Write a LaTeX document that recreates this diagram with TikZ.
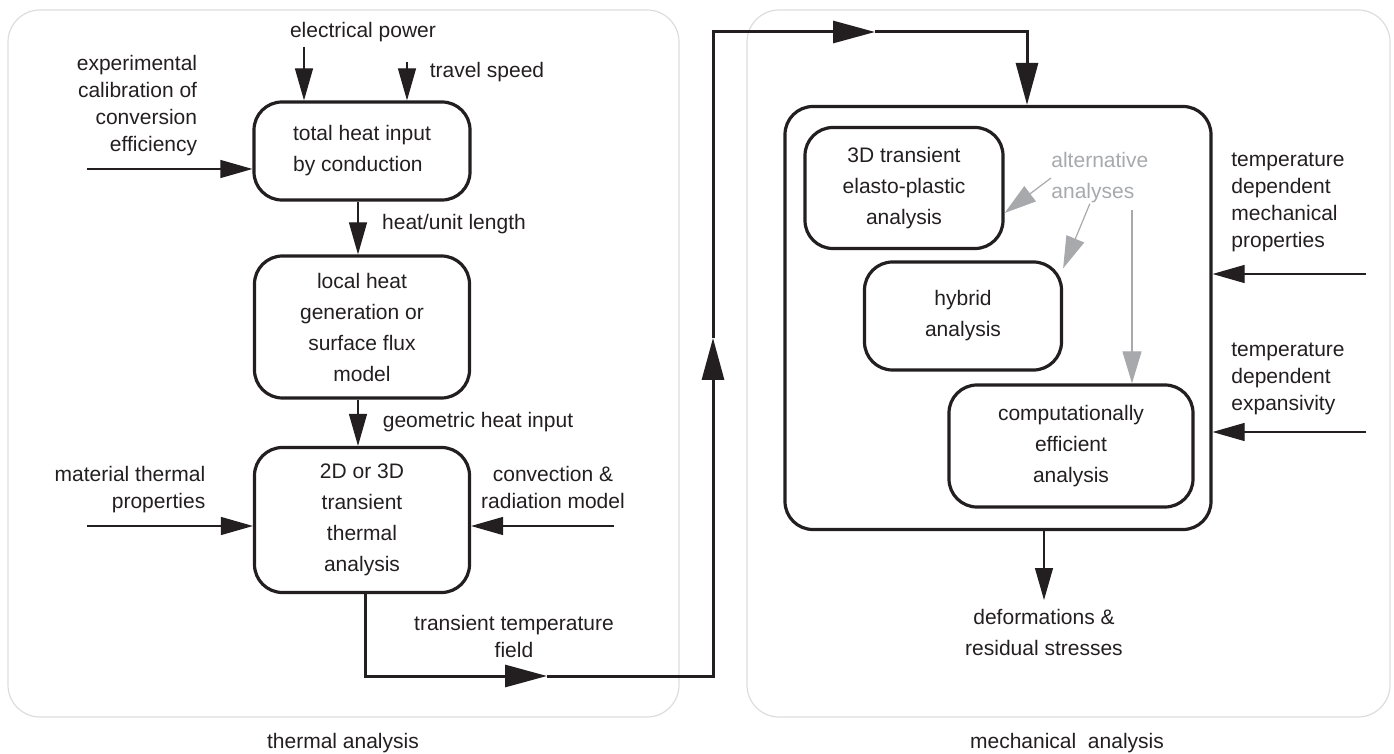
\documentclass[tikz,border=0pt]{standalone}
\usepackage{fontspec}
\setmainfont{Liberation Sans}
\usetikzlibrary{arrows.meta,calc}
\definecolor{ink}{HTML}{231F20}
\definecolor{altgray}{HTML}{A7A9AC}
\definecolor{framegray}{HTML}{DCDDDE}
\tikzset{
  procbox/.style={draw=ink,rounded corners=14pt,line width=1.6pt,align=center,inner sep=0pt,text=ink,font=\fontsize{10.5}{15.5}\selectfont},
  lbl/.style={align=center,inner sep=0pt,text=ink,font=\fontsize{10.5}{13.5}\selectfont},
  lblwide/.style={lbl,font=\fontsize{10.5}{15.5}\selectfont},
  panel/.style={draw=framegray,line width=0.6pt,rounded corners=16pt},
  inarrow/.style={draw=ink,line width=0.6pt,-{Triangle[length=16pt,width=9pt]}},
  flow/.style={draw=ink,line width=1.5pt,-{Triangle[length=21pt,width=11pt]}},
  altarrow/.style={draw=altgray,line width=0.6pt,-{Triangle[length=16pt,width=9.5pt]}}
}
\begin{document}
\begin{tikzpicture}[x=0.5pt,y=-0.5pt]
\useasboundingbox (0,0) rectangle (1394,754);
\draw[panel] (8,10) rectangle (679,717);
\draw[panel] (747,10) rectangle (1390,717);
\node[lbl] (thlabel) at (343,743) {thermal analysis};
\node[lbl] (mchlabel) at (1067,743) {mechanical\ \ analysis};

\node[procbox,align=left,minimum width=108pt,minimum height=49pt] (heat) at (362,151) {total heat input\\by conduction};
\node[procbox,minimum width=107.5pt,minimum height=71pt] (flux) at (362,327) {local heat\\generation or\\surface flux\\model};
\node[procbox,minimum width=107.5pt,minimum height=72.5pt] (therm) at (362,520) {2D or 3D\\transient\\thermal\\analysis};

\node[procbox,minimum width=213pt,minimum height=211.5pt] (mech) at (998,318) {};
\node[procbox,minimum width=99pt,minimum height=60.5pt] (full3d) at (904,188) {3D transient\\elasto-plastic\\analysis};
\node[procbox,minimum width=98.5pt,minimum height=54pt] (hybrid) at (963,316) {hybrid\\analysis};
\node[procbox,minimum width=122pt,minimum height=61pt] (effic) at (1071,446) {computationally\\efficient\\analysis};

\node[lbl] (elecp) at (363,32) {electrical power};
\node[lbl] (speed) at (487,72) {travel speed};
\node[lbl,align=right] (expcal) at (137,106) {experimental\\calibration of\\conversion\\efficiency};
\node[lbl] (unitlen) at (454,224) {heat/unit length};
\node[lbl] (geomin) at (478,422) {geometric heat input};
\node[lbl,align=right] (matprop) at (130,490) {material thermal\\properties};
\node[lbl] (convrad) at (553,487) {convection \&\\radiation model};
\node[lbl] (tempfield) at (514,636) {transient temperature\\field};
\node[lblwide,align=left,anchor=west,text=altgray] (alt) at (1051,178) {alternative\\analyses};
\node[lbl,align=left,anchor=west] (mechprop) at (1231,202) {temperature\\dependent\\mechanical\\properties};
\node[lbl,align=left,anchor=west] (expans) at (1231,379) {temperature\\dependent\\expansivity};
\node[lblwide] (deform) at (1044,632) {deformations \&\\residual stresses};

\coordinate (elecin) at (304,47);
\coordinate (speedin) at (407,62);
\coordinate (expin) at (87,169);
\coordinate (matin) at (87,526);
\coordinate (convin) at (614,526);
\coordinate (mpin) at (1366,274);
\coordinate (exin) at (1366,432);
\coordinate (outtip) at (1044,600);
\coordinate (altC) at (1132,210);

\draw[inarrow] (elecin) -- (elecin |- heat.north);
\draw[inarrow] (speedin) -- (speedin |- heat.north);
\draw[inarrow] (expin) -- (expin -| heat.west);
\draw[inarrow] ([xshift=-2pt]heat.south) -- ([xshift=-2pt]flux.north);
\draw[inarrow] ([xshift=-2pt]flux.south) -- ([xshift=-2pt]therm.north);
\draw[inarrow] (matin) -- (matin -| therm.west);
\draw[inarrow] (convin) -- (convin -| therm.east);
\draw[inarrow] (mpin) -- (mpin -| mech.east);
\draw[inarrow] (exin) -- (exin -| mech.east);
\draw[inarrow] ([xshift=23pt]mech.south) -- (outtip);

\draw[altarrow] (alt.west) -- ([yshift=-12.5pt]full3d.east);
\draw[altarrow] ([xshift=-5pt]alt.south) -- ([yshift=-4pt]hybrid.north east);
\draw[altarrow] (altC) -- (altC |- effic.north);

\coordinate (midA) at (547,676);
\coordinate (bendA) at (713,676);
\coordinate (midB) at (713,338);
\coordinate (bendB) at (713,32);
\coordinate (midC) at (875,32);
\coordinate (bendC) at (1027,32);
\draw[flow] ([xshift=1.5pt]therm.south) |- (midA);
\draw[flow] (midA) -- (bendA) -- (midB);
\draw[flow] (midB) -- (bendB) -- (midC);
\draw[flow] (midC) -- (bendC) -- (bendC |- mech.north);
\end{tikzpicture}
\end{document}
